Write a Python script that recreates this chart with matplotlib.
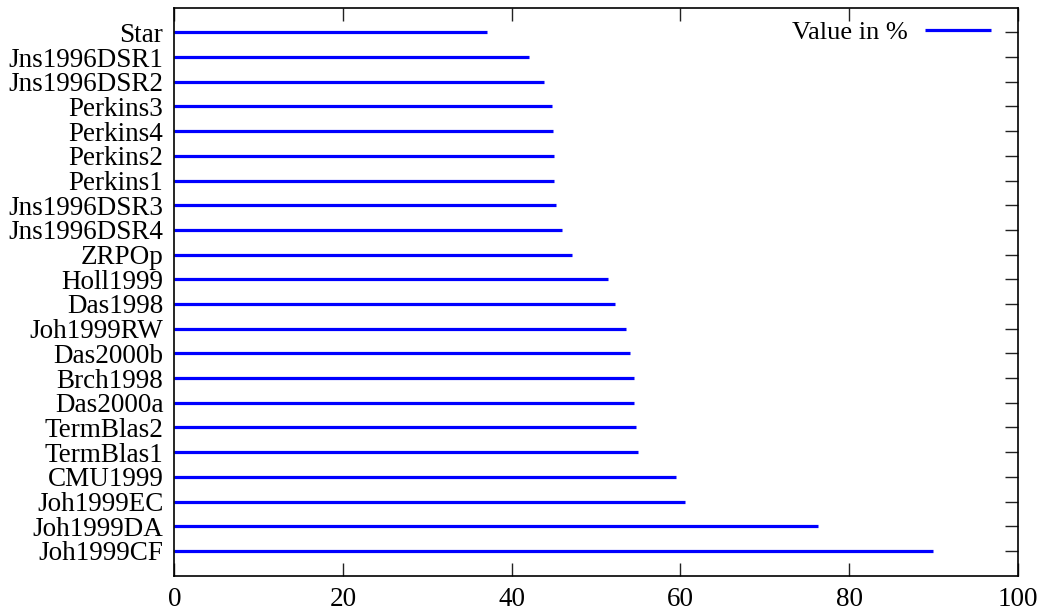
import numpy as np
import matplotlib.pyplot as plt

plt.rcParams['font.family'] = ['Liberation Serif', 'DejaVu Serif']

# systems listed top to bottom, with their score in percent
systems = ['Star', 'Jns1996DSR1', 'Jns1996DSR2', 'Perkins3', 'Perkins4',
           'Perkins2', 'Perkins1', 'Jns1996DSR3', 'Jns1996DSR4', 'ZRPOp',
           'Holl1999', 'Das1998', 'Joh1999RW', 'Das2000b', 'Brch1998',
           'Das2000a', 'TermBlas2', 'TermBlas1', 'CMU1999', 'Joh1999EC',
           'Joh1999DA', 'Joh1999CF']
values = [37.1, 42.1, 43.8, 44.8, 44.9, 45.0, 45.0, 45.2, 45.9, 47.1,
          51.4, 52.3, 53.6, 54.0, 54.5, 54.5, 54.7, 55.0, 59.5, 60.5,
          76.3, 90.0]
xticks = [0, 20, 40, 60, 80, 100]

n = len(systems)
ypos = np.arange(n)[::-1]

fig = plt.figure(figsize=(10.49, 6.14), dpi=100)
ax = fig.add_axes([0.1663, 0.0624, 0.8039, 0.9252])

ax.hlines(ypos, 0, values, colors='#0000ff', lw=2.3, label='Value in %')

ax.set_xlim(0, 100)
ax.set_ylim(-1, n)
ax.set_xticks(xticks)
ax.set_yticks(ypos)
ax.set_yticklabels(systems)

ax.tick_params(axis='both', direction='in', length=9.4, width=1.0,
               labelsize=19.5, top=True, right=True, color='#222222')
ax.tick_params(axis='x', pad=8)
ax.tick_params(axis='y', pad=8)
for s in ax.spines.values():
    s.set_linewidth(1.2)

ax.legend(loc='center right', bbox_to_anchor=(0.9684, 0.9565),
          frameon=False, markerfirst=False, fontsize=19,
          handlelength=2.5, handletextpad=0.65, borderpad=0,
          borderaxespad=0)

fig.savefig('out.png', dpi=100)
